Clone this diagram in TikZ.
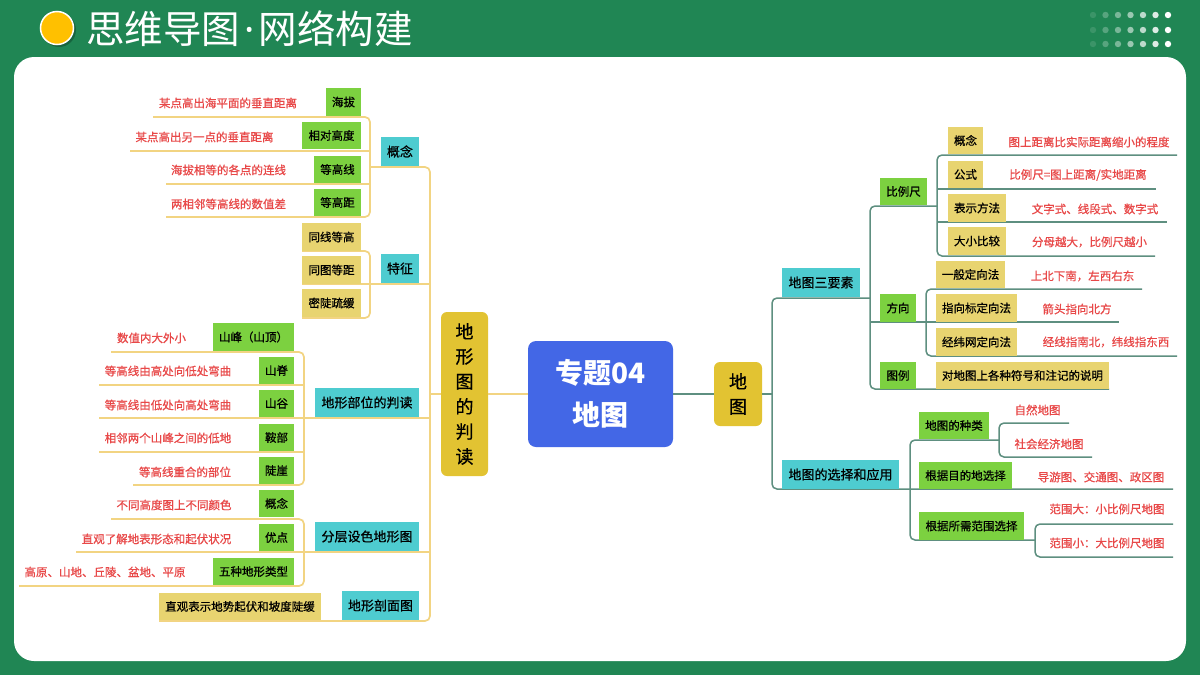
\documentclass[tikz,border=0pt]{standalone}
\usepackage{fontspec}
\setmainfont{Noto Sans CJK SC}
\newfontfamily\semib[FakeBold=0.7]{Noto Sans CJK SC}
\newfontfamily\latinsans{Noto Sans}
\definecolor{bggreen}{RGB}{32,134,84}
\definecolor{sun}{RGB}{255,192,0}
\definecolor{leafgreen}{RGB}{124,209,64}
\definecolor{leafyellow}{RGB}{232,212,112}
\definecolor{catcyan}{RGB}{78,204,208}
\definecolor{mgold}{RGB}{226,195,50}
\definecolor{cblue}{RGB}{67,103,230}
\definecolor{txtred}{RGB}{232,72,72}
\definecolor{lcol}{RGB}{242,212,130}
\definecolor{rcol}{RGB}{94,143,128}
\tikzset{
  box/.style={inner sep=0pt, text=black, font=\semib\fontsize{11.5}{13}\selectfont},
  gbox/.style={box, fill=leafgreen},
  ybox/.style={box, fill=leafyellow},
  cbox/.style={box, fill=catcyan, font=\semib\fontsize{13}{15}\selectfont},
  rtext/.style={text=txtred, inner sep=0pt, font=\semib\fontsize{11.5}{13}\selectfont},
  lline/.style={draw=lcol, line width=1.7pt, rounded corners=5pt},
  rline/.style={draw=rcol, line width=1.5pt, rounded corners=5pt},
}
\newcommand\bx[7]{\node[#1,minimum width={#5-#3},minimum height={#6-#4}] (#2) at ({(#3+#5)/2},{(#4+#6)/2}) {#7};}
\begin{document}
\begin{tikzpicture}[x=1pt,y=-1pt]
\useasboundingbox (0,0) rectangle (1200,675);
\fill[bggreen] (0,0) rectangle (1200,675);
\fill[white, rounded corners=20pt] (14,57) rectangle (1186,661);
% dots
\foreach \i/\op in {0/0.12,1/0.25,2/0.4,3/0.55,4/0.7,5/0.85,6/1}
  \foreach \yy in {15,30,44}
    \fill[white, opacity=\op] ({1093+12.5*\i},\yy) circle (3.2pt);
% title
\fill[black, opacity=0.25] (59,30) circle (17pt);
\draw[white, line width=1.5pt, fill=sun] (57,28) circle (16.5pt);
\node[anchor=west, inner sep=0pt, text=white, font=\fontsize{38.5}{40}\selectfont] (title) at (86,29) {思维导图\kern4pt{\latinsans·}\kern4pt网络构建};

% ---------- left lines
\draw[lline] (153,117) -- (370,117) -- (370,217) -- (166,217);
\draw[lline] (130,151) -- (370,151);
\draw[lline] (166,184) -- (370,184);
\draw[lline] (370,167) -- (430,167) -- (430,621) -- (159,621);
\draw[lline] (302,251) -- (370,251) -- (370,318) -- (302,318);
\draw[lline] (302,284) -- (430,284);
\draw[lline] (111,352) -- (304,352) -- (304,485) -- (133,485);
\draw[lline] (99,385) -- (304,385);
\draw[lline] (99,418) -- (430,418);
\draw[lline] (99,452) -- (304,452);
\draw[lline] (111,519) -- (304,519) -- (304,586) -- (19,586);
\draw[lline] (76,552) -- (430,552);
\coordinate (LT) at (430,394);

% ---------- right lines
\coordinate (RT) at (772,394);
\draw[rline] (870,298) -- (772,298) -- (772,489) -- (1173,489);
\draw[rline] (937,206) -- (870,206) -- (870,389) -- (1109,389);
\draw[rline] (870,322) -- (1119,322);
\draw[rline] (1177,155) -- (937,155) -- (937,256) -- (1155,256);
\draw[rline] (937,189) -- (1156,189);
\draw[rline] (937,222) -- (1167,222);
\draw[rline] (1142,289) -- (926,289) -- (926,356) -- (1177,356);
\draw[rline] (999,440) -- (910,440) -- (910,540) -- (1035,540);
\draw[rline] (1069,423) -- (999,423) -- (999,457) -- (1092,457);
\draw[rline] (1173,524) -- (1035,524) -- (1035,557) -- (1173,557);

% ---------- central nodes
\node[fill=cblue, rounded corners=8pt, minimum width=145, minimum height=106, inner sep=0pt, text=white, font=\bfseries\fontsize{28}{42}\selectfont, align=center] (center) at (600.5,394) {专题04\\地图};
\node[fill=mgold, rounded corners=6pt, minimum width=47, minimum height=164, inner sep=0pt, font=\semib\fontsize{18}{25}\selectfont, align=center] (mleft) at (464.5,394) {地\\形\\图\\的\\判\\读};
\node[fill=mgold, rounded corners=6pt, minimum width=48, minimum height=64, inner sep=0pt, font=\semib\fontsize{18}{25}\selectfont, align=center] (mright) at (738,394) {地\\图};
\draw[lline, line width=2pt] (center.west) -- (mleft.east);
\draw[lline] (mleft.west) -- (LT);
\draw[rline, line width=2pt] (center.east) -- (mright.west);
\draw[rline] (mright.east) -- (RT);

% ---------- left boxes
\bx{gbox}{hb}{326}{88}{361}{116}{海拔}
\bx{gbox}{xdgd}{302}{122}{361}{149}{相对高度}
\bx{gbox}{dgx}{314}{156}{361}{183}{等高线}
\bx{gbox}{dgj}{314}{189}{361}{216}{等高距}
\bx{cbox}{gn}{381}{137}{419}{166}{概念}
\bx{ybox}{txdg}{302}{223}{361}{251}{同线等高}
\bx{ybox}{ttdj}{302}{256}{361}{284}{同图等距}
\bx{ybox}{mdsh}{302}{289}{361}{317}{密陡疏缓}
\bx{cbox}{tz}{381}{254}{419}{283}{特征}
\bx{gbox}{sf}{213}{323}{294}{351}{山峰（山顶）}
\bx{gbox}{sj}{259}{357}{294}{384}{山脊}
\bx{gbox}{sg}{259}{390}{294}{417}{山谷}
\bx{gbox}{ab}{259}{424}{294}{451}{鞍部}
\bx{gbox}{dy}{259}{457}{294}{484}{陡崖}
\bx{cbox}{dxbw}{315}{388}{419}{417}{地形部位的判读}
\bx{gbox}{gn2}{259}{490}{294}{517}{概念}
\bx{gbox}{yd}{259}{524}{294}{551}{优点}
\bx{gbox}{wz}{213}{558}{294}{585}{五种地形类型}
\bx{cbox}{fc}{315}{522}{419}{551}{分层设色地形图}
\bx{ybox}{zgbs}{159}{593}{321}{620}{直观表示地势起伏和坡度陡缓}
\bx{cbox}{pm}{342}{591}{419}{620}{地形剖面图}

% left red texts
\node[rtext] (t1) at (228,103) {某点高出海平面的垂直距离};
\node[rtext] (t2) at (204.5,137) {某点高出另一点的垂直距离};
\node[rtext] (t3) at (228.5,170) {海拔相等的各点的连线};
\node[rtext] (t4) at (228.5,204) {两相邻等高线的数值差};
\node[rtext] (t5) at (151.5,338) {数值内大外小};
\node[rtext] (t6) at (168,371) {等高线由高处向低处弯曲};
\node[rtext] (t7) at (168,405) {等高线由低处向高处弯曲};
\node[rtext] (t8) at (168,438) {相邻两个山峰之间的低地};
\node[rtext] (t9) at (185,472) {等高线重合的部位};
\node[rtext] (t10) at (174,505) {不同高度图上不同颜色};
\node[rtext] (t11) at (156.5,539) {直观了解地表形态和起伏状况};
\node[rtext] (t12) at (105,572) {高原、山地、丘陵、盆地、平原};

% ---------- right boxes
\bx{cbox}{sys}{782}{268}{860}{297}{地图三要素}
\bx{gbox}{blc}{880}{178}{927}{205}{比例尺}
\bx{ybox}{gn3}{948}{127}{983}{154}{概念}
\bx{ybox}{gs}{948}{161}{983}{188}{公式}
\bx{ybox}{bsff}{948}{194}{1006}{222}{表示方法}
\bx{ybox}{dxbj}{948}{227}{1006}{255}{大小比较}
\bx{gbox}{fx}{880}{294}{916}{322}{方向}
\bx{ybox}{ybdx}{936}{261}{1005}{288}{一般定向法}
\bx{ybox}{zxbd}{936}{294}{1017}{322}{指向标定向法}
\bx{ybox}{jww}{936}{328}{1017}{356}{经纬网定向法}
\bx{gbox}{tl}{880}{362}{916}{389}{图例}
\bx{ybox}{dsm}{936}{362}{1109}{389}{对地图上各种符号和注记的说明}
\bx{cbox}{xzyy}{782}{460}{899}{489}{地图的选择和应用}
\bx{gbox}{zl}{919}{412}{989}{439}{地图的种类}
\bx{gbox}{mdd}{919}{462}{1012}{489}{根据目的地选择}
\bx{gbox}{fwxz}{919}{512}{1024}{540}{根据所需范围选择}

% right red texts
\node[rtext] (r1) at (1089,142) {图上距离比实际距离缩小的程度};
\node[rtext] (r2) at (1078,175) {比例尺=图上距离/实地距离};
\node[rtext] (r3) at (1095,209) {文字式、线段式、数字式};
\node[rtext] (r4) at (1089.5,242) {分母越大，比例尺越小};
\node[rtext] (r5) at (1082.5,276) {上北下南，左西右东};
\node[rtext] (r6) at (1077,309) {箭头指向北方};
\node[rtext] (r7) at (1106,342) {经线指南北，纬线指东西};
\node[rtext] (r8) at (1037.5,410) {自然地图};
\node[rtext] (r9) at (1049,444) {社会经济地图};
\node[rtext] (r10) at (1101,477) {导游图、交通图、政区图};
\node[rtext] (r11) at (1107,509) {范围大：小比例尺地图};
\node[rtext] (r12) at (1107,543) {范围小：大比例尺地图};
\end{tikzpicture}
\end{document}
